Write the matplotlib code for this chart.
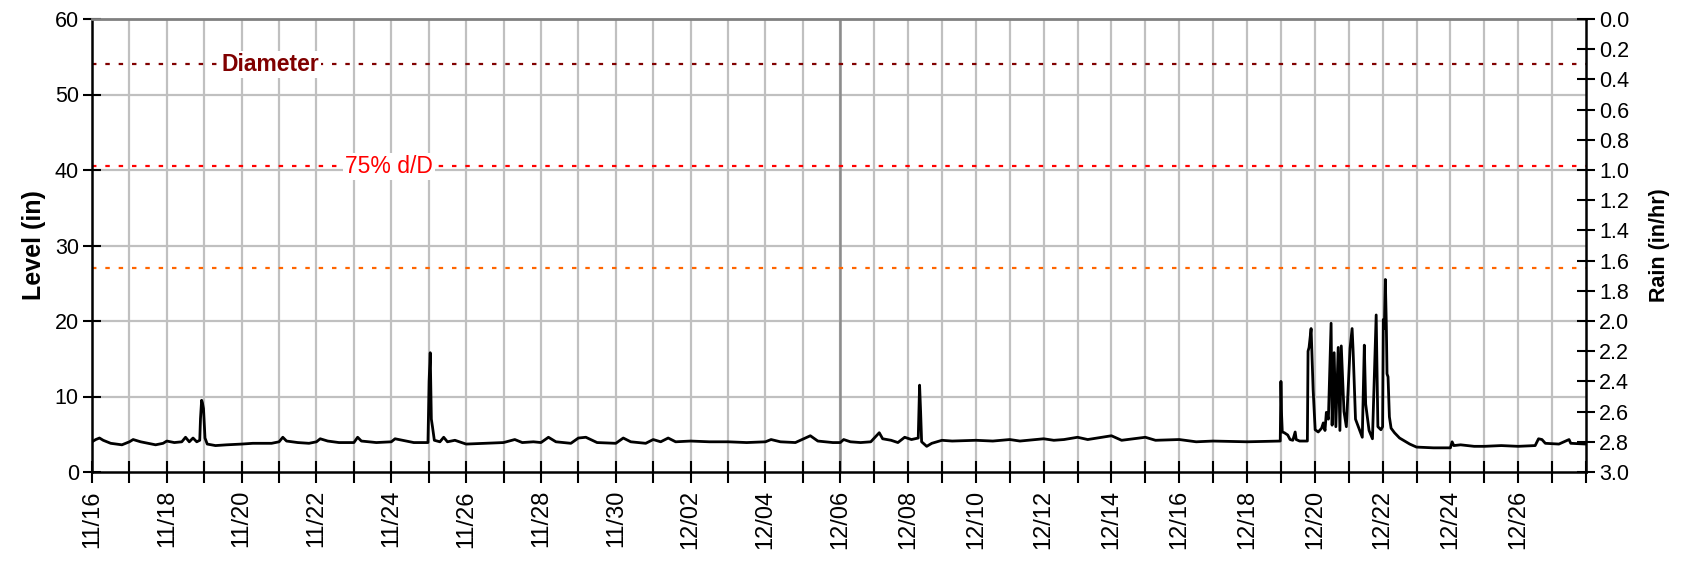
import numpy as np
import matplotlib
matplotlib.use("Agg")
import matplotlib.pyplot as plt
from matplotlib.ticker import FixedLocator, FixedFormatter, MultipleLocator, FormatStrFormatter

plt.rcParams.update({
    "font.family": ["Liberation Sans", "DejaVu Sans"],
    "font.size": 15,
})

# Level readings: time in days since 11/16 00:00, level in inches
TIME_DAYS = [
    0.0, 0.1, 0.2, 0.3, 0.5, 0.8, 1.0, 1.1, 1.3, 1.5, 1.7, 1.9, 2.0, 2.2, 2.4,
    2.5, 2.6, 2.7, 2.8, 2.88, 2.90, 2.93, 2.95, 2.98, 3.02, 3.08, 3.3, 3.6,
    4.0, 4.3, 4.6, 4.8, 5.0, 5.1, 5.2, 5.5, 5.8, 6.0, 6.1, 6.3, 6.6, 7.0, 7.1,
    7.2, 7.6, 8.0, 8.1, 8.3, 8.6, 8.98, 9.01, 9.04, 9.07, 9.1, 9.15, 9.3, 9.4,
    9.5, 9.7, 10.0, 10.5, 11.0, 11.3, 11.5, 11.8, 12.0, 12.2, 12.4, 12.8, 13.0,
    13.2, 13.5, 14.0, 14.2, 14.4, 14.8, 15.0, 15.2, 15.4, 15.6, 16.0, 16.5,
    17.0, 17.5, 18.0, 18.15, 18.4, 18.8, 19.2, 19.4, 19.8, 20.0, 20.1, 20.3,
    20.6, 20.9, 21.15, 21.25, 21.5, 21.7, 21.9, 22.1, 22.3, 22.34, 22.37, 22.4,
    22.55, 22.7, 23.0, 23.3, 24.0, 24.5, 25.0, 25.3, 26.0, 26.3, 26.6, 27.0,
    27.3, 28.0, 28.3, 29.0, 29.3, 30.0, 30.5, 31.0, 32.0, 32.98, 33.0, 33.02,
    33.04, 33.1, 33.2, 33.27, 33.35, 33.42, 33.45, 33.55, 33.78, 33.80, 33.83,
    33.89, 33.95, 34.01, 34.1, 34.2, 34.25, 34.3, 34.34, 34.4, 34.48, 34.51,
    34.57, 34.62, 34.69, 34.74, 34.78, 34.86, 34.93, 35.04, 35.10, 35.13, 35.2,
    35.3, 35.4, 35.46, 35.5, 35.6, 35.7, 35.81, 35.86, 35.95, 36.0, 36.02,
    36.05, 36.08, 36.11, 36.13, 36.16, 36.2, 36.25, 36.35, 36.5, 36.65, 36.8,
    37.0, 37.5, 38.0, 38.05, 38.1, 38.3, 38.7, 39.0, 39.5, 40.0, 40.5, 40.6,
    40.7, 40.8, 41.2, 41.5, 41.55, 42.0,
]
LEVEL_IN = [
    4.0, 4.3, 4.5, 4.2, 3.8, 3.6, 4.0, 4.3, 4.0, 3.8, 3.6, 3.8, 4.1, 3.9, 4.0,
    4.6, 4.0, 4.5, 4.0, 4.2, 7.1, 9.5, 9.2, 8.4, 4.5, 3.7, 3.5, 3.6,
    3.7, 3.8, 3.8, 3.8, 4.0, 4.6, 4.1, 3.9, 3.8, 4.0, 4.4, 4.1, 3.9, 3.9, 4.6,
    4.1, 3.9, 4.0, 4.4, 4.2, 3.9, 3.9, 12.0, 15.8, 7.0, 6.0, 4.2, 4.0, 4.6,
    4.0, 4.2, 3.7, 3.8, 3.9, 4.3, 3.9, 4.0, 3.9, 4.6, 4.0, 3.8, 4.5,
    4.6, 3.9, 3.8, 4.5, 4.0, 3.8, 4.3, 4.0, 4.5, 4.0, 4.1, 4.0,
    4.0, 3.9, 4.0, 4.3, 4.0, 3.9, 4.8, 4.1, 3.9, 3.9, 4.3, 4.0,
    3.9, 4.0, 5.2, 4.4, 4.2, 3.9, 4.6, 4.3, 4.5, 11.5, 8.0, 4.0,
    3.4, 3.8, 4.2, 4.1, 4.2, 4.1, 4.3, 4.1, 4.4, 4.2, 4.3, 4.6,
    4.3, 4.8, 4.2, 4.6, 4.2, 4.3, 4.0, 4.1, 4.0, 4.1, 12.0, 7.5,
    5.3, 5.2, 4.9, 4.3, 4.2, 5.3, 4.3, 4.1, 4.1, 16.0, 16.5,
    19.0, 10.9, 5.6, 5.3, 5.8, 6.5, 5.5, 7.9, 7.0, 19.7, 6.2,
    15.8, 6.0, 16.5, 5.5, 16.7, 8.0, 6.0, 16.4, 19.0, 16.0, 7.0,
    5.8, 4.6, 16.8, 9.0, 5.5, 4.4, 20.8, 6.0, 5.6, 6.0, 20.2,
    19.0, 25.5, 19.3, 13.0, 12.6, 7.3, 5.8, 5.2, 4.5, 4.1, 3.7,
    3.3, 3.2, 3.2, 4.0, 3.5, 3.6, 3.4, 3.4, 3.5, 3.4, 3.5, 4.4,
    4.3, 3.8, 3.7, 4.3, 3.8, 3.7,
]

DIAMETER_IN = 54.0
D75_IN = 40.5
D50_IN = 27.0

DAY_COUNT = 42
DATE_LABELS = ["11/16", "11/18", "11/20", "11/22", "11/24", "11/26", "11/28",
               "11/30", "12/02", "12/04", "12/06", "12/08", "12/10", "12/12",
               "12/14", "12/16", "12/18", "12/20", "12/22", "12/24", "12/26"]

# the time axis is compressed after 12/06 in the original chart
BREAK = 20.0
SQUEEZE = 0.906


def fwd(d):
    d = np.asarray(d, dtype=float)
    return np.where(d <= BREAK, d, BREAK + (d - BREAK) * SQUEEZE)


def inv(p):
    p = np.asarray(p, dtype=float)
    return np.where(p <= BREAK, p, BREAK + (p - BREAK) / SQUEEZE)


fig = plt.figure(figsize=(16.82, 5.63), dpi=100)
ax = fig.add_axes([92 / 1682, 1 - 472 / 563, (1586 - 92) / 1682, (472 - 19) / 563])
ax.set_xscale("function", functions=(fwd, inv))
ax.set_xlim(0, DAY_COUNT)
ax.set_ylim(0, 60)

grid_c = "#c0c0c0"
for d in range(1, DAY_COUNT):
    ax.axvline(d, color=grid_c, lw=1.6, zorder=0)
for v in range(10, 60, 10):
    ax.axhline(v, color=grid_c, lw=1.6, zorder=0)
ax.axvline(BREAK, color="#8c8c8c", lw=1.8, zorder=0.5)

ax.axhline(DIAMETER_IN, color="#800000", lw=1.6, ls=(0, (2, 4)), zorder=1)
ax.axhline(D75_IN, color="#ff0000", lw=1.6, ls=(0, (2, 4)), zorder=1)
ax.axhline(D50_IN, color="#ff6600", lw=1.6, ls=(0, (2, 4)), zorder=1)

ax.text(4.76, DIAMETER_IN, "Diameter", color="#800000", fontsize=16.5,
        fontweight="bold", ha="center", va="center", zorder=2,
        bbox=dict(facecolor="white", edgecolor="none", pad=1.5))
ax.text(7.94, D75_IN, "75% d/D", color="#ff0000", fontsize=16.5,
        ha="center", va="center", zorder=2,
        bbox=dict(facecolor="white", edgecolor="none", pad=1.5))

ax.plot(TIME_DAYS, LEVEL_IN, color="black", lw=2.0, zorder=3)

ax.xaxis.set_major_locator(FixedLocator(range(0, DAY_COUNT + 1)))
tick_text = []
for d in range(DAY_COUNT + 1):
    tick_text.append(DATE_LABELS[d // 2] if d % 2 == 0 and d // 2 < len(DATE_LABELS) else "")
ax.xaxis.set_major_formatter(FixedFormatter(tick_text))
ax.tick_params(axis="x", direction="inout", length=16, width=1.5, pad=5,
               labelrotation=90, labelsize=17)
ax.yaxis.set_major_locator(MultipleLocator(10))
ax.tick_params(axis="y", direction="inout", length=13, width=1.5, pad=3,
               labelsize=15.5)
ax.set_ylabel("Level (in)", fontsize=18, fontweight="bold", labelpad=6)

for side in ("left", "bottom"):
    ax.spines[side].set_linewidth(1.8)
ax.spines["top"].set_color("#808080")
ax.spines["top"].set_linewidth(2.0)
ax.spines["right"].set_visible(False)

ax2 = ax.twinx()
ax2.set_ylim(3.0, 0.0)
ax2.yaxis.set_major_locator(MultipleLocator(0.2))
ax2.yaxis.set_major_formatter(FormatStrFormatter("%.1f"))
ax2.tick_params(axis="y", direction="inout", length=13, width=1.5, pad=3,
                labelsize=15.5)
ax2.set_ylabel("Rain (in/hr)", fontsize=15.5, fontweight="bold", labelpad=14)
ax2.spines["right"].set_linewidth(1.8)
for side in ("left", "top", "bottom"):
    ax2.spines[side].set_visible(False)

fig.savefig("out.png", dpi=100)
